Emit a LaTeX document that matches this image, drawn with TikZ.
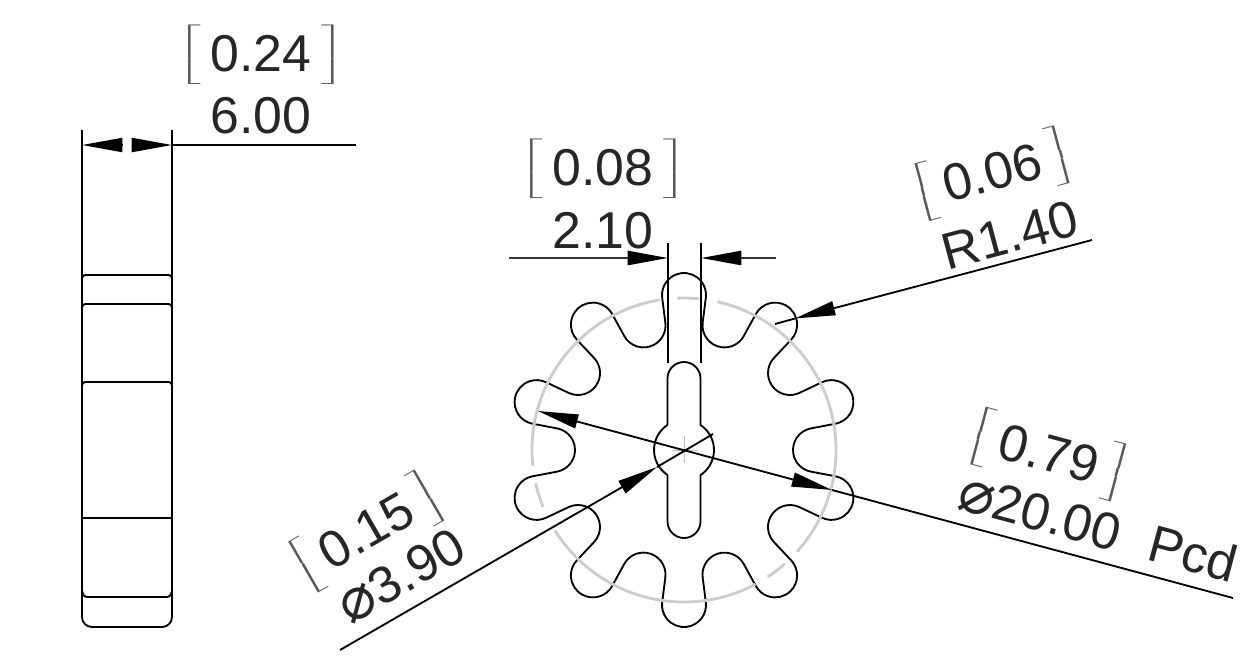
\documentclass[tikz,border=0pt]{standalone}
\usepackage{graphicx}
\usepackage{fontspec}
\setmainfont{Liberation Sans}
\newfontfamily\symfont{DejaVu Sans}
\usetikzlibrary{arrows.meta}
\newcommand{\lbrk}{\textcolor{black!65}{\raisebox{.15em}{\scalebox{2.1}[.81]{$\left[\vrule height 1.0em depth .15em width 0pt\right.$}}}}
\newcommand{\rbrk}{\textcolor{black!65}{\raisebox{.15em}{\scalebox{2.1}[.81]{$\left.\vrule height 1.0em depth .15em width 0pt\right]$}}}}
\newcommand{\brk}[1]{\lbrk\hspace{.1em}#1\hspace{.1em}\rbrk}
\newcommand{\dia}{{\fontsize{34}{34}\symfont ⌀}}
\begin{document}
\begin{tikzpicture}[x=0.02cm, y=-0.02cm, line width=1.05pt,
                    part/.style = {line join=round},
                    dimhead/.style = {-{Triangle[length=23pt,width=8pt,color=black]}},
                    pitch/.style = {draw=gray!40, line width=1.6pt},
                    dimtext/.style = {font=\fontsize{29.5}{32}\selectfont, text=black!85, inner sep=0pt}]
\useasboundingbox (0,0) rectangle (1260,667);
% side view
\coordinate (sl) at (82,130);
\coordinate (sr) at (172,130);
\draw[part] (sl) -- (82,617) arc (180:90:10) -- (162,627) arc (90:0:10) -- (sr);
\foreach \yy in {275,304,382} {
\draw[part] (82,\yy+4) .. controls (83,\yy) .. (89,\yy) -- (165,\yy) .. controls (171,\yy) .. (172,\yy+4);
}
\draw[part] (82,518) -- (172,518);
\draw[part] (82,591) .. controls (84,597) .. (91,597) -- (163,597) .. controls (170,597) .. (172,591);
\coordinate (wa) at (123,145);
\coordinate (wb) at (82,145);
\coordinate (wc) at (132,145);
\coordinate (wd) at (172,145);
\coordinate (we) at (356,145);
\draw[dimhead] (wa) -- (wb);
\draw[dimhead] (wc) -- (wd);
\draw (wd) -- (we);
\node[dimtext] (w1) at (261,53) {\brk{0.24}};
\node[dimtext] (w2) at (261,116) {6.00};
% gear
\begin{scope}[shift={(684,450)}, yscale=-1]
\foreach \a in {0,36,...,324} {
\draw[part, rotate=-\a] (-21.82,152.22) arc (187.27:-7.27:22) -- (18.66,127.37) arc (172.73:331.27:22) -- (71.82,135.98);
}
\draw[part] (-16.5,25) -- (-16.5,71.5) arc (180:0:16.5) -- (16.5,25) arc (56.6:-56.6:30) -- (16.5,-71.5) arc (0:-180:16.5) -- (-16.5,-25) arc (236.6:123.4:30) -- cycle;
\draw[pitch] (84.3:152) arc (84.3:92.5:152);
\draw[pitch] (99:152) arc (99:186:152);
\draw[pitch] (192.6:152) arc (192.6:202:152);
\draw[pitch] (212:152) arc (212:298:152);
\draw[pitch] (303.4:152) arc (303.4:311.5:152);
\draw[pitch] (318:152) arc (318:437.3:152);
\draw[gray!50, line width=.5pt] (0,14) -- (0,-13) (-12,0) -- (14,0);
\end{scope}
% 2.10
\coordinate (ka) at (668,243);
\coordinate (kb) at (668,363);
\coordinate (kc) at (701,243);
\coordinate (kd) at (701,363);
\draw (ka) -- (kb);
\draw (kc) -- (kd);
\coordinate (ke) at (509,258);
\coordinate (kf) at (668,258);
\coordinate (kg) at (776,258);
\coordinate (kh) at (701,258);
\draw[dimhead, line width=1.4pt, black!80] (ke) -- (kf);
\draw[dimhead, line width=1.4pt, black!80] (kg) -- (kh);
\node[dimtext] (k1) at (603,167) {\brk{0.08}};
\node[dimtext] (k2) at (603,231) {2.10};
% R1.40
\coordinate (ra) at (1092,240);
\coordinate (rb) at (795,318.5);
\coordinate (rc) at (775,324);
\draw[dimhead] (ra) -- (rb);
\draw (rb) -- (rc);
\node[dimtext, rotate=15] (r1) at (992,172) {\brk{0.06}};
\node[dimtext, rotate=15] (r2) at (1010,235) {R1.40};
% 20.00 Pcd
\coordinate (pa) at (1233,598);
\coordinate (pb) at (832,490);
\coordinate (pc) at (538,411);
\draw[{Triangle[length=23pt,width=8pt,color=black]}-{Triangle[length=23pt,width=8pt,color=black]}] (pc) -- (pb);
\draw (pb) -- (pa);
\node[dimtext, rotate=-15] (p1) at (1049,453) {\brk{0.79}};
\node[dimtext, rotate=-15] (p2) at (1098,528) {\dia20.00\hspace{.6em}Pcd};
% 3.90
\coordinate (ha) at (340,650);
\coordinate (hb) at (657,467);
\coordinate (hc) at (713,434);
\draw[dimhead] (ha) -- (hb);
\draw (hb) -- (hc);
\node[dimtext, rotate=30] (h1) at (366,530) {\brk{0.15}};
\node[dimtext, rotate=30] (h2) at (401,576) {\dia3.90};
\end{tikzpicture}
\end{document}
